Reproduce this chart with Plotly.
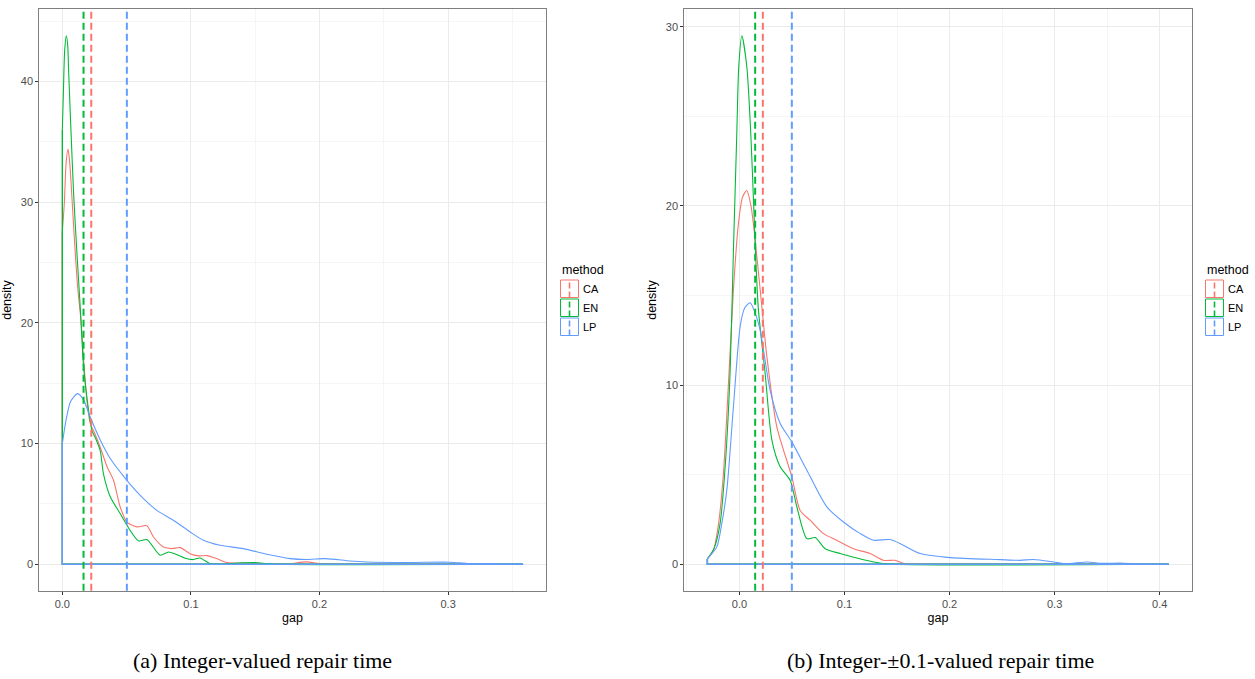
import plotly.graph_objects as go

W, H = 1255, 679

methods = ["CA", "EN", "LP"]
method_colors = ["#F8766D", "#00BA38", "#619CFF"]

# ---- (a) Integer-valued repair time: density of gap per method ----
a_ca_gap = [0, 0.0016, 0.0029, 0.0044, 0.0055, 0.0067, 0.0093, 0.0119, 0.0145, 0.0166, 0.0195,
            0.0217, 0.025, 0.0295, 0.0347, 0.0398, 0.045, 0.0502, 0.058, 0.0657, 0.0709, 0.0787,
            0.085, 0.0916, 0.0994, 0.106, 0.1123, 0.12, 0.128, 0.146, 0.159, 0.175, 0.19, 0.2,
            0.22, 0.358]
a_ca_den = [27.5, 30, 33.2, 34.4, 33.6, 31.8, 27.1, 23, 20.2, 16.9, 13.2,
            11.7, 10.9, 9.7, 8.1, 6.96, 4.75, 3.5, 3.1, 3.2, 2.26, 1.43,
            1.3, 1.38, 0.88, 0.7, 0.72, 0.47, 0.14, 0.11, 0.05, 0.03, 0.2, 0.05,
            0.01, 0]

a_en_gap = [0, 0.0008, 0.0018, 0.0031, 0.0042, 0.0049, 0.0067, 0.0088, 0.0114, 0.014, 0.0166,
            0.0204, 0.023, 0.026, 0.0295, 0.032, 0.0373, 0.045, 0.0528, 0.0593, 0.0657, 0.0761,
            0.0826, 0.0903, 0.0955, 0.1019, 0.107, 0.115, 0.125, 0.14, 0.15, 0.16, 0.358]
a_en_den = [36, 39, 42.5, 43.8, 43, 40.9, 36, 30.7, 25.7, 21.2, 16.3,
            12.8, 11.1, 10.4, 9.4, 7.5, 5.6, 4.2, 2.8, 1.93, 2.05, 0.75,
            1.02, 0.75, 0.5, 0.39, 0.52, 0.05, 0.02, 0.12, 0.15, 0.03, 0]

a_lp_gap = [0, 0.003, 0.0065, 0.0119, 0.0166, 0.0217, 0.0295, 0.0373, 0.0502, 0.0631, 0.0735,
            0.0864, 0.0994, 0.1097, 0.1227, 0.1408, 0.159, 0.177, 0.19, 0.205, 0.2236, 0.2366,
            0.27, 0.301, 0.315, 0.33, 0.358]
a_lp_den = [10, 12, 13.5, 14.14, 13.6, 12.2, 10.3, 8.76, 6.96, 5.44, 4.47,
            3.65, 2.68, 1.99, 1.57, 1.3, 0.83, 0.47, 0.4, 0.47, 0.27, 0.19,
            0.15, 0.17, 0.07, 0.04, 0.02]

a_means = [0.0225, 0.0165, 0.0502]

# ---- (b) Integer-±0.1-valued repair time ----
b_ca_gap = [-0.0305, -0.0248, -0.02, -0.0152, -0.0105, -0.0057, -0.001, 0.003, 0.007, 0.011,
            0.015, 0.0213, 0.0261, 0.0356, 0.0499, 0.0578, 0.0673, 0.08, 0.0927, 0.1086, 0.1245,
            0.137, 0.148, 0.156, 0.17, 0.4085]
b_ca_den = [0.3, 0.78, 2.2, 5.07, 10, 15.3, 19, 20.5, 20.86, 20,
            18.1, 14.4, 11.6, 7.67, 4.88, 3.0, 2.46, 1.71, 1.34, 0.87, 0.6,
            0.22, 0.22, 0.05, 0.01, 0]

b_en_gap = [-0.0305, -0.024, -0.0184, -0.0135, -0.0089, -0.0057, -0.0025, -0.0006, 0.0023,
            0.007, 0.0108, 0.0134, 0.0159, 0.0181, 0.0245, 0.0309, 0.0388, 0.0483, 0.0547, 0.0642,
            0.0721, 0.0816, 0.0959, 0.1118, 0.1276, 0.14, 0.4085]
b_en_den = [0.3, 0.9, 2.27, 5.5, 10.65, 17.5, 24.0, 27.8, 29.5,
            27.8, 24.06, 20.3, 16.6, 14.2, 10.65, 6.93, 5.44, 4.69, 3.2, 1.43,
            1.49, 0.87, 0.6, 0.35, 0.13, 0.02, 0]

b_lp_gap = [-0.0305, -0.0215, -0.017, -0.012, -0.0057, 0.0007, 0.005, 0.0102, 0.0145, 0.0197,
            0.0292, 0.0388, 0.0499, 0.0642, 0.0832, 0.099, 0.115, 0.1276, 0.1435, 0.156, 0.172,
            0.2007, 0.248, 0.267, 0.28, 0.299, 0.31, 0.331, 0.345, 0.3626, 0.38, 0.4085]
b_lp_den = [0.3, 0.97, 2.2, 4.13, 8.79, 13.26, 14.3, 14.6, 14.1, 13.07,
            9.72, 7.86, 6.83, 5.25, 3.2, 2.36, 1.71, 1.34, 1.38, 1.06, 0.6,
            0.37, 0.26, 0.22, 0.27, 0.13, 0.03, 0.13, 0.05, 0.07, 0.02, 0]

b_means = [0.0223, 0.0150, 0.0499]

panels = [
    dict(xa="x", ya="y", series=[(a_ca_gap, a_ca_den), (a_en_gap, a_en_den), (a_lp_gap, a_lp_den)],
         means=a_means),
    dict(xa="x2", ya="y2", series=[(b_ca_gap, b_ca_den), (b_en_gap, b_en_den), (b_lp_gap, b_lp_den)],
         means=b_means),
]


def px_x(p):
    return p / W


def px_y(p):
    return 1 - p / H


fig = go.Figure()
shapes = []
annotations = []

for panel in panels:
    for (gx, dy), color in zip(panel["series"], method_colors):
        fig.add_trace(go.Scatter(
            x=gx, y=dy, mode="lines", xaxis=panel["xa"], yaxis=panel["ya"],
            line=dict(color=color, width=1.1, shape="spline", smoothing=0.7),
            showlegend=False, hoverinfo="skip"))
        # closing edges of the density polygon down to the baseline
        fig.add_trace(go.Scatter(
            x=[gx[-1], gx[-1], gx[0], gx[0]], y=[dy[-1], 0, 0, dy[0]], mode="lines",
            xaxis=panel["xa"], yaxis=panel["ya"],
            line=dict(color=color, width=1.4), showlegend=False, hoverinfo="skip"))
    for m, color in zip(panel["means"], method_colors):
        shapes.append(dict(type="line", xref=panel["xa"], yref=panel["ya"] + " domain",
                           x0=m, x1=m, y0=0, y1=1,
                           line=dict(color=color, width=2, dash="7px,4px")))


def expand(lo, hi, f=0.05):
    d = (hi - lo) * f
    return [lo - d, hi + d]


a_xr = expand(min(a_ca_gap + a_en_gap + a_lp_gap), max(a_ca_gap + a_en_gap + a_lp_gap))
a_yr = expand(0, max(a_ca_den + a_en_den + a_lp_den))
b_xr = expand(min(b_ca_gap + b_en_gap + b_lp_gap), max(b_ca_gap + b_en_gap + b_lp_gap))
b_yr = expand(0, max(b_ca_den + b_en_den + b_lp_den))

sans = "Liberation Sans, Arial, sans-serif"
tickfont = dict(family=sans, size=11, color="#4D4D4D")
titlefont = dict(family=sans, size=12.5, color="#000000")


def xaxis(dom, rng, anchor):
    return dict(domain=dom, range=rng, anchor=anchor, tick0=0, dtick=0.1, tickformat=".1f",
                ticks="outside", ticklen=3, tickcolor="#333333", tickwidth=1,
                tickfont=tickfont, showgrid=True, gridcolor="#EBEBEB", gridwidth=1,
                minor=dict(tick0=0, dtick=0.05, showgrid=True, gridcolor="#F5F5F5"),
                showline=True, linecolor="#7F7F7F", linewidth=1, mirror=True,
                zeroline=False, automargin=False,
                title=dict(text="gap", font=titlefont, standoff=4))


def yaxis(dom, rng, anchor):
    return dict(domain=dom, range=rng, anchor=anchor, tick0=0, dtick=10,
                ticks="outside", ticklen=3, tickcolor="#333333", tickwidth=1,
                tickfont=tickfont, showgrid=True, gridcolor="#EBEBEB", gridwidth=1,
                minor=dict(tick0=0, dtick=5, showgrid=True, gridcolor="#F5F5F5"),
                showline=True, linecolor="#7F7F7F", linewidth=1, mirror=True,
                zeroline=False, automargin=False,
                title=dict(text="density", font=titlefont, standoff=6))


ydom = [px_y(590.7), px_y(9.3)]

# legend blocks ("method" key with dashed centre line)
for left in (560, 1205):
    annotations.append(dict(xref="paper", yref="paper", x=px_x(left), y=px_y(270), text="method",
                            showarrow=False, xanchor="left", yanchor="middle",
                            font=dict(family=sans, size=12.5, color="#000000")))
    for i, (m, color) in enumerate(zip(methods, method_colors)):
        top = 279.5 + i * 19
        shapes.append(dict(type="rect", xref="paper", yref="paper",
                           x0=px_x(left + 0.5), x1=px_x(left + 18.5),
                           y0=px_y(top + 18), y1=px_y(top + 0.5),
                           line=dict(color=color, width=1), fillcolor="white"))
        shapes.append(dict(type="line", xref="paper", yref="paper",
                           x0=px_x(left + 9.5), x1=px_x(left + 9.5),
                           y0=px_y(top + 18), y1=px_y(top + 0.5),
                           line=dict(color=color, width=1.6, dash="6px,3px")))
        annotations.append(dict(xref="paper", yref="paper", x=px_x(left + 21), y=px_y(top + 9.5),
                                text=m, showarrow=False, xanchor="left", yanchor="middle",
                                font=dict(family=sans, size=11, color="#000000")))

# sub-figure captions
serif = "Liberation Serif, Times New Roman, serif"
annotations.append(dict(xref="paper", yref="paper", x=px_x(262), y=px_y(660),
                        text="(a) Integer-valued repair time", showarrow=False,
                        xanchor="center", yanchor="middle",
                        font=dict(family=serif, size=22, color="#000000")))
annotations.append(dict(xref="paper", yref="paper", x=px_x(940), y=px_y(660),
                        text="(b) Integer-±0.1-valued repair time", showarrow=False,
                        xanchor="center", yanchor="middle",
                        font=dict(family=serif, size=22, color="#000000")))

fig.update_layout(
    width=W, height=H, margin=dict(l=0, r=0, t=0, b=0),
    paper_bgcolor="white", plot_bgcolor="white", showlegend=False,
    xaxis=xaxis([px_x(39.3), px_x(545.7)], a_xr, "y"),
    yaxis=yaxis(ydom, a_yr, "x"),
    xaxis2=xaxis([px_x(684.3), px_x(1191.7)], b_xr, "y2"),
    yaxis2=yaxis(ydom, b_yr, "x2"),
    shapes=shapes, annotations=annotations,
)

fig.write_html("out.html")
